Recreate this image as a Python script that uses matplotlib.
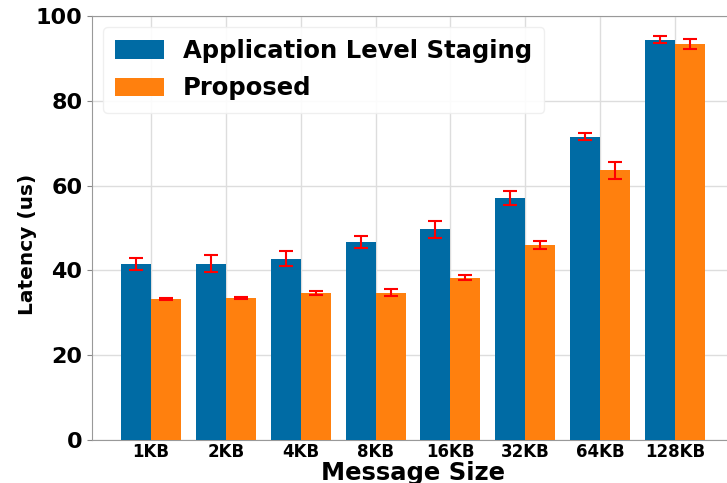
import numpy as np
import matplotlib.pyplot as plt

sizes = ["1KB", "2KB", "4KB", "8KB", "16KB", "32KB", "64KB", "128KB"]
staging = [41.5, 41.6, 42.8, 46.8, 49.7, 57.0, 71.5, 94.4]
staging_err = [1.5, 2.0, 1.8, 1.4, 2.0, 1.65, 0.8, 0.85]
proposed = [33.2, 33.5, 34.6, 34.7, 38.3, 46.0, 63.6, 93.4]
proposed_err = [0.2, 0.25, 0.5, 0.8, 0.65, 1.0, 2.0, 1.1]

plt.rcParams['font.weight'] = 'bold'

fig = plt.figure(figsize=(7.27, 4.83), dpi=100)
ax = fig.add_axes([92 / 727, 43 / 483, 642 / 727, 424 / 483])

x = np.arange(len(sizes))
w = 0.4
err_kw = dict(ecolor='red', capsize=5, elinewidth=1.5, capthick=1.5)
ax.bar(x - w / 2, staging, w, yerr=staging_err, color='#006BA4',
       label='Application Level Staging', error_kw=err_kw, zorder=3)
ax.bar(x + w / 2, proposed, w, yerr=proposed_err, color='#FF800E',
       label='Proposed', error_kw=err_kw, zorder=3)

ax.set_xlim(-0.79, 7.79)
ax.set_ylim(0, 100)
ax.set_xticks(x)
ax.set_xticklabels(sizes, fontsize=12, fontweight='bold')
ax.set_yticks([0, 20, 40, 60, 80, 100])
ax.tick_params(axis='y', labelsize=16)
ax.tick_params(axis='x', length=0, pad=2)
ax.tick_params(axis='both', colors='#888888', labelcolor='black')
ax.set_xlabel('Message Size', fontsize=17.5, fontweight='bold', labelpad=0)
ax.set_ylabel('Latency (us)', fontsize=14.5, fontweight='bold')
ax.yaxis.set_label_coords(-0.086, 0.462)
ax.grid(True, color='#dddddd', linewidth=1, zorder=0)
for s in ax.spines.values():
    s.set_color('#999999')

ax.legend(loc='upper left', prop={'weight': 'bold', 'size': 17.5},
          framealpha=0.9, edgecolor='#eeeeee', handlelength=2.0,
          handleheight=0.8, borderpad=0.5, labelspacing=0.55,
          borderaxespad=0.45)

fig.savefig('out.png', dpi=100)
